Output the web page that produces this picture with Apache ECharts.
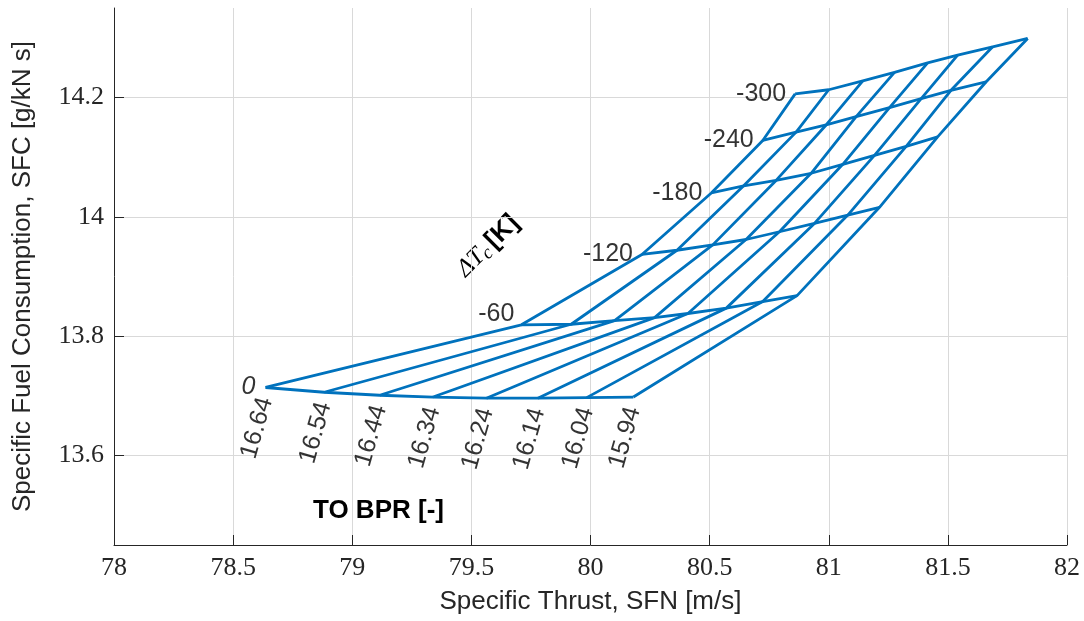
<!DOCTYPE html>
<html>
<head>
<meta charset="utf-8">
<script src="https://cdn.jsdelivr.net/npm/echarts@6/dist/echarts.min.js"></script>
<style>
  html, body { margin: 0; padding: 0; background: #fff; }
  #chart { width: 1084px; height: 621px; }
</style>
</head>
<body>
<div id="chart"></div>
<script>
// TO BPR labels (one carpet line each) and compressor temperature offsets
var bprValues = ['16.64', '16.54', '16.44', '16.34', '16.24', '16.14', '16.04', '15.94'];
var dtcValues = ['0', '-60', '-120', '-180', '-240', '-300'];

// specific thrust / SFC, one row per dTc, one column per BPR
var sfn_dT0   = [78.636, 78.882, 79.115, 79.339, 79.563, 79.779, 79.984, 80.180];
var sfc_dT0   = [13.714, 13.706, 13.701, 13.698, 13.696, 13.696, 13.697, 13.698];
var sfn_dT60  = [79.710, 79.919, 80.101, 80.269, 80.409, 80.570, 80.723, 80.867];
var sfc_dT60  = [13.819, 13.820, 13.826, 13.831, 13.838, 13.847, 13.858, 13.868];
var sfn_dT120 = [80.216, 80.363, 80.513, 80.653, 80.793, 80.940, 81.080, 81.213];
var sfc_dT120 = [13.937, 13.944, 13.953, 13.962, 13.975, 13.989, 14.003, 14.016];
var sfn_dT180 = [80.507, 80.643, 80.779, 80.926, 81.059, 81.192, 81.325, 81.457];
var sfc_dT180 = [14.040, 14.052, 14.061, 14.073, 14.088, 14.103, 14.118, 14.134];
var sfn_dT240 = [80.723, 80.863, 80.989, 81.115, 81.255, 81.388, 81.513, 81.660];
var sfc_dT240 = [14.128, 14.142, 14.154, 14.168, 14.183, 14.198, 14.212, 14.226];
var sfn_dT300 = [80.859, 81.000, 81.143, 81.276, 81.415, 81.541, 81.688, 81.835];
var sfc_dT300 = [14.206, 14.213, 14.228, 14.242, 14.258, 14.271, 14.285, 14.299];

var yTicks = [13.6, 13.8, 14, 14.2];

var sfnRows = [sfn_dT0, sfn_dT60, sfn_dT120, sfn_dT180, sfn_dT240, sfn_dT300];
var sfcRows = [sfc_dT0, sfc_dT60, sfc_dT120, sfc_dT180, sfc_dT240, sfc_dT300];

var blue = '#0072BD';
var txt = '#262626';
var series = [];

// lines of constant dTc
for (var r = 0; r < sfnRows.length; r++) {
    var d = [];
    for (var c = 0; c < bprValues.length; c++) d.push([sfnRows[r][c], sfcRows[r][c]]);
    series.push({ type: 'line', data: d, symbol: 'none', silent: true,
        lineStyle: { color: blue, width: 2.8 } });
}
// lines of constant BPR
for (var c = 0; c < bprValues.length; c++) {
    var d = [];
    for (var r = 0; r < sfnRows.length; r++) d.push([sfnRows[r][c], sfcRows[r][c]]);
    series.push({ type: 'line', data: d, symbol: 'none', silent: true,
        lineStyle: { color: blue, width: 2.8 } });
}

// BPR labels under the dTc = 0 line (offset is in the rotated text frame)
var bprLabelData = [];
for (var c = 0; c < bprValues.length; c++) {
    bprLabelData.push({ value: [sfn_dT0[c], sfc_dT0[c]], name: bprValues[c] });
}
series.push({
    type: 'scatter', data: bprLabelData, symbolSize: 2, silent: true,
    itemStyle: { color: 'rgba(0,0,0,0)' },
    label: {
        show: true, formatter: '{b}', position: 'inside', rotate: 74,
        align: 'right', verticalAlign: 'middle', offset: [-10, 3],
        fontFamily: 'Liberation Sans', fontSize: 25, color: '#000'
    }
});

// dTc labels at the left end of each line
var dtcLabelData = [];
for (var r = 0; r < sfnRows.length; r++) {
    var lab = { position: 'left', distance: 8 };
    if (r === 0) lab = { position: 'left', distance: 9, fontStyle: 'italic' };
    if (r === 1) lab = { position: 'left', distance: 6, offset: [0, -11] };
    dtcLabelData.push({ value: [sfnRows[r][0], sfcRows[r][0]], name: dtcValues[r], label: lab });
}
series.push({
    type: 'scatter', data: dtcLabelData, symbolSize: 2, silent: true,
    itemStyle: { color: 'rgba(0,0,0,0)' },
    label: { show: true, formatter: '{b}', fontFamily: 'Liberation Sans', fontSize: 25, color: '#000' }
});

var chart = echarts.init(document.getElementById('chart'), null, { renderer: 'canvas' });
chart.setOption({
    animation: false,
    backgroundColor: '#fff',
    grid: { left: 114, right: 17, top: 8, bottom: 76, outerBoundsMode: 'none' },
    xAxis: {
        type: 'value', min: 78, max: 82, interval: 0.5,
        name: 'Specific Thrust, SFN [m/s]', nameLocation: 'middle', nameGap: 44,
        nameTextStyle: { fontFamily: 'Liberation Sans', fontSize: 26, color: txt },
        axisLine: { show: true, onZero: false, lineStyle: { color: txt, width: 1 } },
        axisTick: { show: true, inside: true, length: 10, lineStyle: { color: txt } },
        axisLabel: { fontFamily: 'Liberation Serif', fontSize: 26, color: txt, margin: 10 },
        splitLine: { show: true, lineStyle: { color: '#d9d9d9', width: 1 } }
    },
    yAxis: {
        type: 'value', min: 13.45, max: 14.35,
        name: 'Specific Fuel Consumption, SFC [g/kN s]', nameLocation: 'middle', nameGap: 78,
        nameTextStyle: { fontFamily: 'Liberation Sans', fontSize: 26, color: txt },
        axisLine: { show: true, onZero: false, lineStyle: { color: txt, width: 1 } },
        axisTick: { show: true, inside: true, length: 10, lineStyle: { color: txt }, customValues: yTicks },
        axisLabel: { fontFamily: 'Liberation Serif', fontSize: 26, color: txt, margin: 10, customValues: yTicks },
        splitLine: { show: true, lineStyle: { color: '#d9d9d9', width: 1 } }
    },
    graphic: [
        {
            type: 'text', x: 313, y: 511, silent: true,
            style: { text: 'TO BPR [-]', fontFamily: 'Liberation Sans', fontSize: 26, fontWeight: 'bold',
                fill: '#000', verticalAlign: 'middle' }
        },
        {
            type: 'text', x: 488, y: 246, rotation: Math.PI / 4, silent: true,
            style: {
                text: '{d|ΔT}{c|c} {k|[K]}', align: 'center', verticalAlign: 'middle',
                rich: {
                    d: { fontFamily: 'Liberation Serif', fontStyle: 'italic', fontSize: 25, fill: '#000' },
                    c: { fontFamily: 'Liberation Serif', fontStyle: 'italic', fontSize: 19, fill: '#000', padding: [10, 0, 0, 0] },
                    k: { fontFamily: 'Liberation Sans', fontWeight: 'bold', fontSize: 26, fill: '#000' }
                }
            }
        }
    ],
    series: series
});
</script>
</body>
</html>
